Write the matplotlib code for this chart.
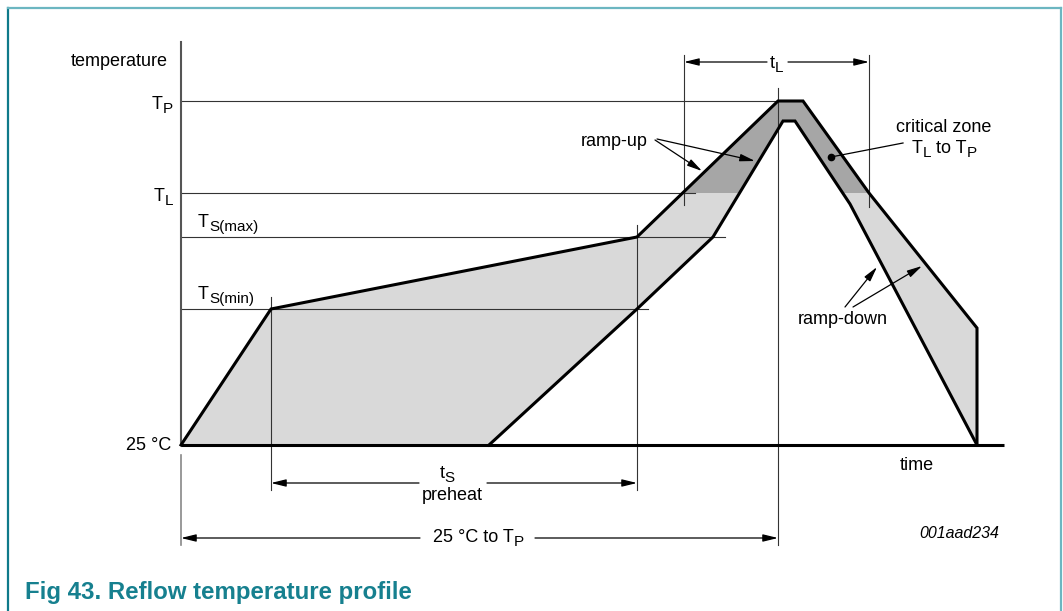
import matplotlib
matplotlib.use("Agg")
import matplotlib.pyplot as plt
from matplotlib.patches import Polygon, Rectangle
from matplotlib.lines import Line2D

plt.rcParams['font.family'] = ['Liberation Sans', 'DejaVu Sans']

# Temperature levels, in diagram units above 25 °C
T_AMB = 0
TS_MIN = 136
TS_MAX = 208
T_L = 252
T_P = 344
T_P_INNER = 324

# Upper / left edge of the allowed profile window (time, temperature)
outer_time = [0, 90, 456, 597, 622, 688, 796, 796]
outer_temp = [T_AMB, TS_MIN, TS_MAX, T_P, T_P, T_L, 117, T_AMB]

# Lower / right edge of the window
inner_time = [308, 456, 532, 602, 614, 669, 796]
inner_temp = [T_AMB, TS_MIN, TS_MAX, T_P_INNER, T_P_INNER, 241, T_AMB]

# Time markers
t_smin = 90
t_smax = 456
t_peak = 597
tl_start = 503
tl_end = 688
time_axis_end = 823

# Reach of each temperature level line
level_values = [T_P, T_L, TS_MAX, TS_MIN]
level_reach = [597, 514, 544, 467]

LIGHT = "#d9d9d9"
DARK = "#a6a6a6"
TEAL = "#16808f"
GUIDE = "#333333"
FS = 13
SUB_FS = 11
SUB_DROP = 4

fig = plt.figure(figsize=(10.63, 6.11), dpi=100)
ax = fig.add_axes([0, 0, 1, 1])
ax.set_xlim(-181, 882)
ax.set_ylim(-166, 445)
ax.axis("off")
renderer = fig.canvas.get_renderer()


def rich(x, y, parts, ha="left"):
    """Draw text with subscripts; y is the main baseline."""
    pieces = []
    cur = x
    for s, sub in parts:
        t = ax.text(cur, y - (SUB_DROP if sub else 0), s,
                    fontsize=SUB_FS if sub else FS, ha="left", va="baseline",
                    zorder=6)
        cur += t.get_window_extent(renderer).width
        pieces.append(t)
    width = cur - x
    shift = {"left": 0, "center": -width / 2, "right": -width}[ha]
    for t in pieces:
        px, py = t.get_position()
        t.set_position((px + shift, py))


# Profile window: light band, darker part above T_L
band = list(zip(outer_time, outer_temp)) + list(zip(inner_time, inner_temp))[::-1]
ax.add_patch(Polygon(band, closed=True, facecolor=LIGHT, edgecolor="none", zorder=1))
crit = Polygon(band, closed=True, facecolor=DARK, edgecolor="none", zorder=1.1)
ax.add_patch(crit)
crit.set_clip_path(Rectangle((-200, T_L), 1200, 400, transform=ax.transData))

# Level lines
for v, reach in zip(level_values, level_reach):
    ax.plot([0, reach], [v, v], color=GUIDE, lw=0.8, zorder=2)

# Axes lines
ax.plot([0, 0], [0, 403], color="#555555", lw=1.5, zorder=2)
ax.plot([0, 0], [-10, -100], color="#888888", lw=1.2, zorder=2)
ax.plot([0, time_axis_end], [0, 0], color="black", lw=2.2, zorder=4,
        solid_capstyle="butt")

# Vertical guides
ax.plot([t_smin, t_smin], [148, -45], color=GUIDE, lw=0.8, zorder=2)
ax.plot([t_smax, t_smax], [220, -45], color=GUIDE, lw=0.8, zorder=2)
ax.plot([t_peak, t_peak], [357, -100], color=GUIDE, lw=0.8, zorder=2)
ax.plot([tl_start, tl_start], [390, 240], color=GUIDE, lw=0.8, zorder=2)
ax.plot([tl_end, tl_end], [390, 238], color=GUIDE, lw=0.8, zorder=2)

# Profile outlines
ax.plot(outer_time, outer_temp, color="black", lw=2.2, zorder=4,
        solid_joinstyle="miter")
ax.plot(inner_time, inner_temp, color="black", lw=2.2, zorder=4,
        solid_joinstyle="miter")

ARROW = dict(arrowstyle="-|>,head_length=0.9,head_width=0.22", color="black",
             lw=0.9, shrinkA=0, shrinkB=0, mutation_scale=10)


def dim_arrow(x0, x1, y, g0, g1):
    ax.annotate("", xy=(x0, y), xytext=(g0, y), arrowprops=ARROW, zorder=5)
    ax.annotate("", xy=(x1, y), xytext=(g1, y), arrowprops=ARROW, zorder=5)


# t_L
dim_arrow(tl_start, tl_end, 383, 586, 607)
rich(596, 377, [("t", False), ("L", True)], ha="center")

# t_S preheat
dim_arrow(t_smin, t_smax, -38, 238, 306)
rich(266, -33, [("t", False), ("S", True)], ha="center")
ax.text(271, -51, "preheat", fontsize=FS, ha="center", va="center")

# 25 °C to T_P
dim_arrow(0, t_peak, -93, 239, 354)
rich(297, -97, [("25 °C to T", False), ("P", True)], ha="center")

# Temperature labels
ax.text(-13, 383, "temperature", fontsize=FS, ha="right", va="center")
rich(-8, 336, [("T", False), ("P", True)], ha="right")
rich(-8, 244, [("T", False), ("L", True)], ha="right")
rich(17, 218, [("T", False), ("S(max)", True)])
rich(17, 146, [("T", False), ("S(min)", True)])
ax.text(-10, 0, "25 °C", fontsize=FS, ha="right", va="center")
ax.text(736, -20, "time", fontsize=FS, ha="center", va="center")
ax.text(818, -89, "001aad234", fontsize=11.5, style="italic", ha="right",
        va="center")

# ramp-up
ax.text(467, 303, "ramp-up", fontsize=FS, ha="right", va="center")
ax.annotate("", xy=(521, 274), xytext=(474, 305), arrowprops=ARROW, zorder=5)
ax.annotate("", xy=(574, 284), xytext=(476, 306), arrowprops=ARROW, zorder=5)

# critical zone
ax.text(763, 318, "critical zone", fontsize=FS, ha="center", va="center")
rich(763, 292, [("T", False), ("L", True), (" to T", False), ("P", True)],
     ha="center")
ax.plot([722, 650], [302, 288], color="black", lw=0.9, zorder=5)
ax.plot([650], [288], "o", color="black", ms=4.5, zorder=5)

# ramp-down
ax.text(662, 126, "ramp-down", fontsize=FS, ha="center", va="center")
ax.annotate("", xy=(696, 178), xytext=(664, 138), arrowprops=ARROW, zorder=5)
ax.annotate("", xy=(741, 179), xytext=(672, 138), arrowprops=ARROW, zorder=5)

# Frame and caption
W, H = 1063, 611
fig.add_artist(Line2D([8 / W, 8 / W], [0, 1 - 8 / H], transform=fig.transFigure,
                      color="#0f7a8a", lw=1.6))
fig.add_artist(Line2D([8 / W, 1061 / W], [1 - 8 / H, 1 - 8 / H],
                      transform=fig.transFigure, color="#6cb6c1", lw=1.6))
fig.add_artist(Line2D([1061 / W, 1061 / W], [0, 1 - 8 / H],
                      transform=fig.transFigure, color="#6cb6c1", lw=1.6))
fig.text(25 / W, 1 - 593 / H, "Fig 43. Reflow temperature profile",
         fontsize=17.3, fontweight="bold", color=TEAL, ha="left", va="center")

fig.savefig("out.png", dpi=100)
